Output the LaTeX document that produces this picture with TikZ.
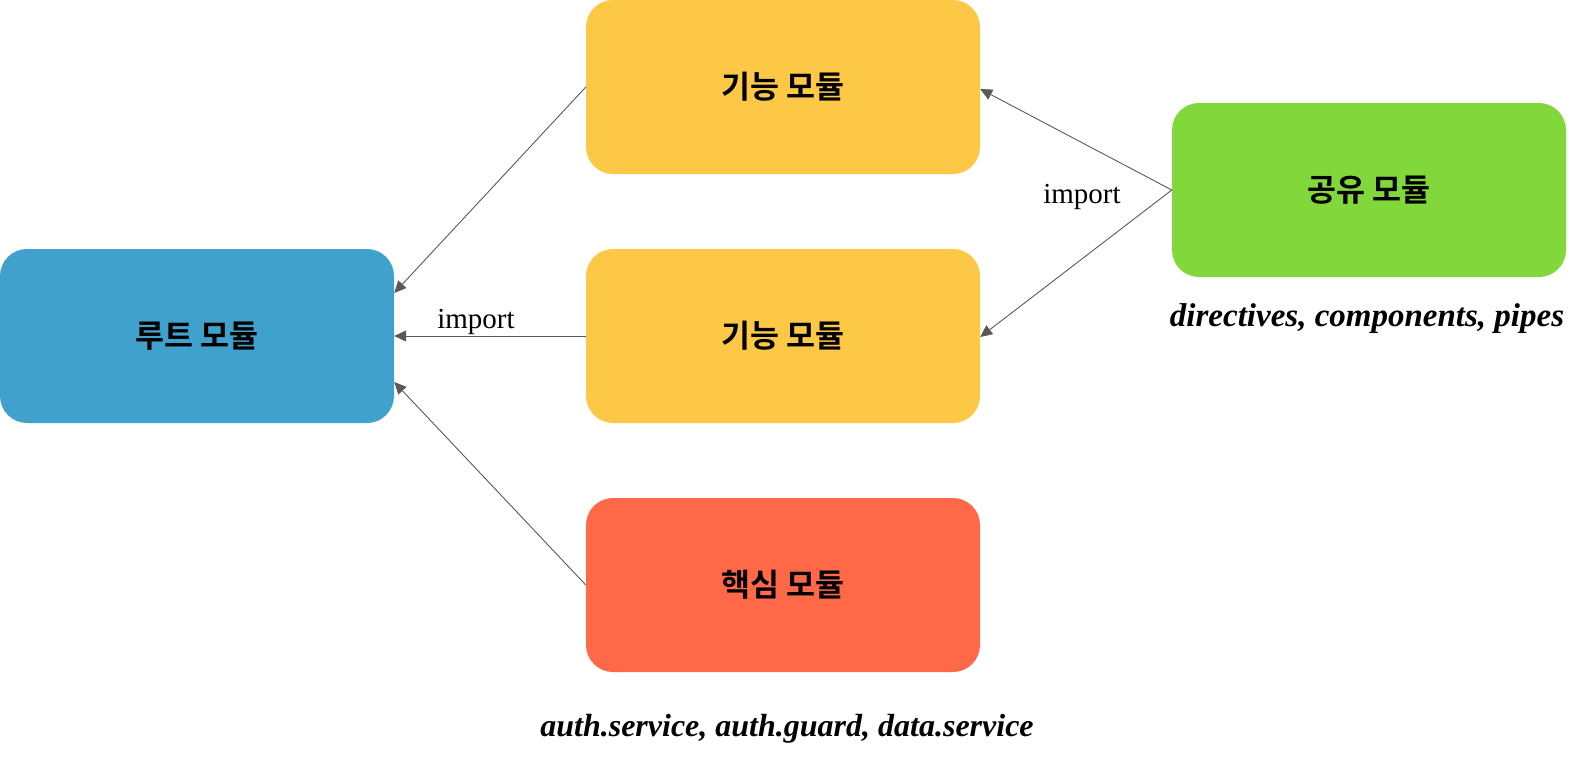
\documentclass[tikz,border=0pt]{standalone}
\usepackage{fontspec}
\setmainfont{Liberation Serif}
\newfontfamily\kr{Noto Sans CJK KR}[BoldFont={* Bold}]
\usetikzlibrary{arrows.meta,calc}
\definecolor{cblue}{HTML}{3FA1CC}
\definecolor{cyellow}{HTML}{FDC846}
\definecolor{cred}{HTML}{FF6948}
\definecolor{cgreen}{HTML}{82D83A}
\definecolor{cline}{HTML}{595959}
\begin{document}
\begin{tikzpicture}[x=1pt,y=-1pt,
  modbox/.style={rounded corners=27pt,minimum width=394pt,minimum height=174pt,inner sep=0pt,font=\kr\bfseries\fontsize{31.5}{36}\selectfont,text=black},
  conn/.style={draw=cline,line width=0.9pt,-{Triangle[length=12pt,width=11pt]}},
  lbl/.style={font=\fontsize{29}{33}\selectfont,inner sep=0pt,anchor=base},
  note/.style={font=\bfseries\itshape,inner sep=0pt,anchor=base}]
\useasboundingbox (0,0) rectangle (1588,764);
\node[modbox,fill=cblue] (root) at (197,336) {루트 모듈};
\node[modbox,fill=cyellow] (f1) at (783,87) {기능 모듈};
\node[modbox,fill=cyellow] (f2) at (783,336) {기능 모듈};
\node[modbox,fill=cred] (core) at (783,585) {핵심 모듈};
\node[modbox,fill=cgreen] (sh) at (1369,190) {공유 모듈};
\coordinate (r1) at ($(root.east)+(0,-43)$);
\coordinate (r3) at ($(root.east)+(0,46)$);
\coordinate (f1e) at ($(f1.east)+(0,2)$);
\coordinate (f2e) at ($(f2.east)+(0,1)$);
\draw[conn] (f1.west) -- (r1);
\draw[conn] (f2.west) -- (root.east);
\draw[conn] (core.west) -- (r3);
\draw[conn] (sh.west) -- (f1e);
\draw[conn] (sh.west) -- (f2e);
\node[lbl] (imp1) at (476,328) {import};
\node[lbl] (imp2) at (1082,203) {import};
\node[note,font=\bfseries\itshape\fontsize{33}{38}\selectfont] (n1) at (1367,326) {directives, components, pipes};
\node[note,font=\bfseries\itshape\fontsize{32}{37}\selectfont] (n2) at (787,736) {auth.service, auth.guard, data.service};
\end{tikzpicture}
\end{document}
